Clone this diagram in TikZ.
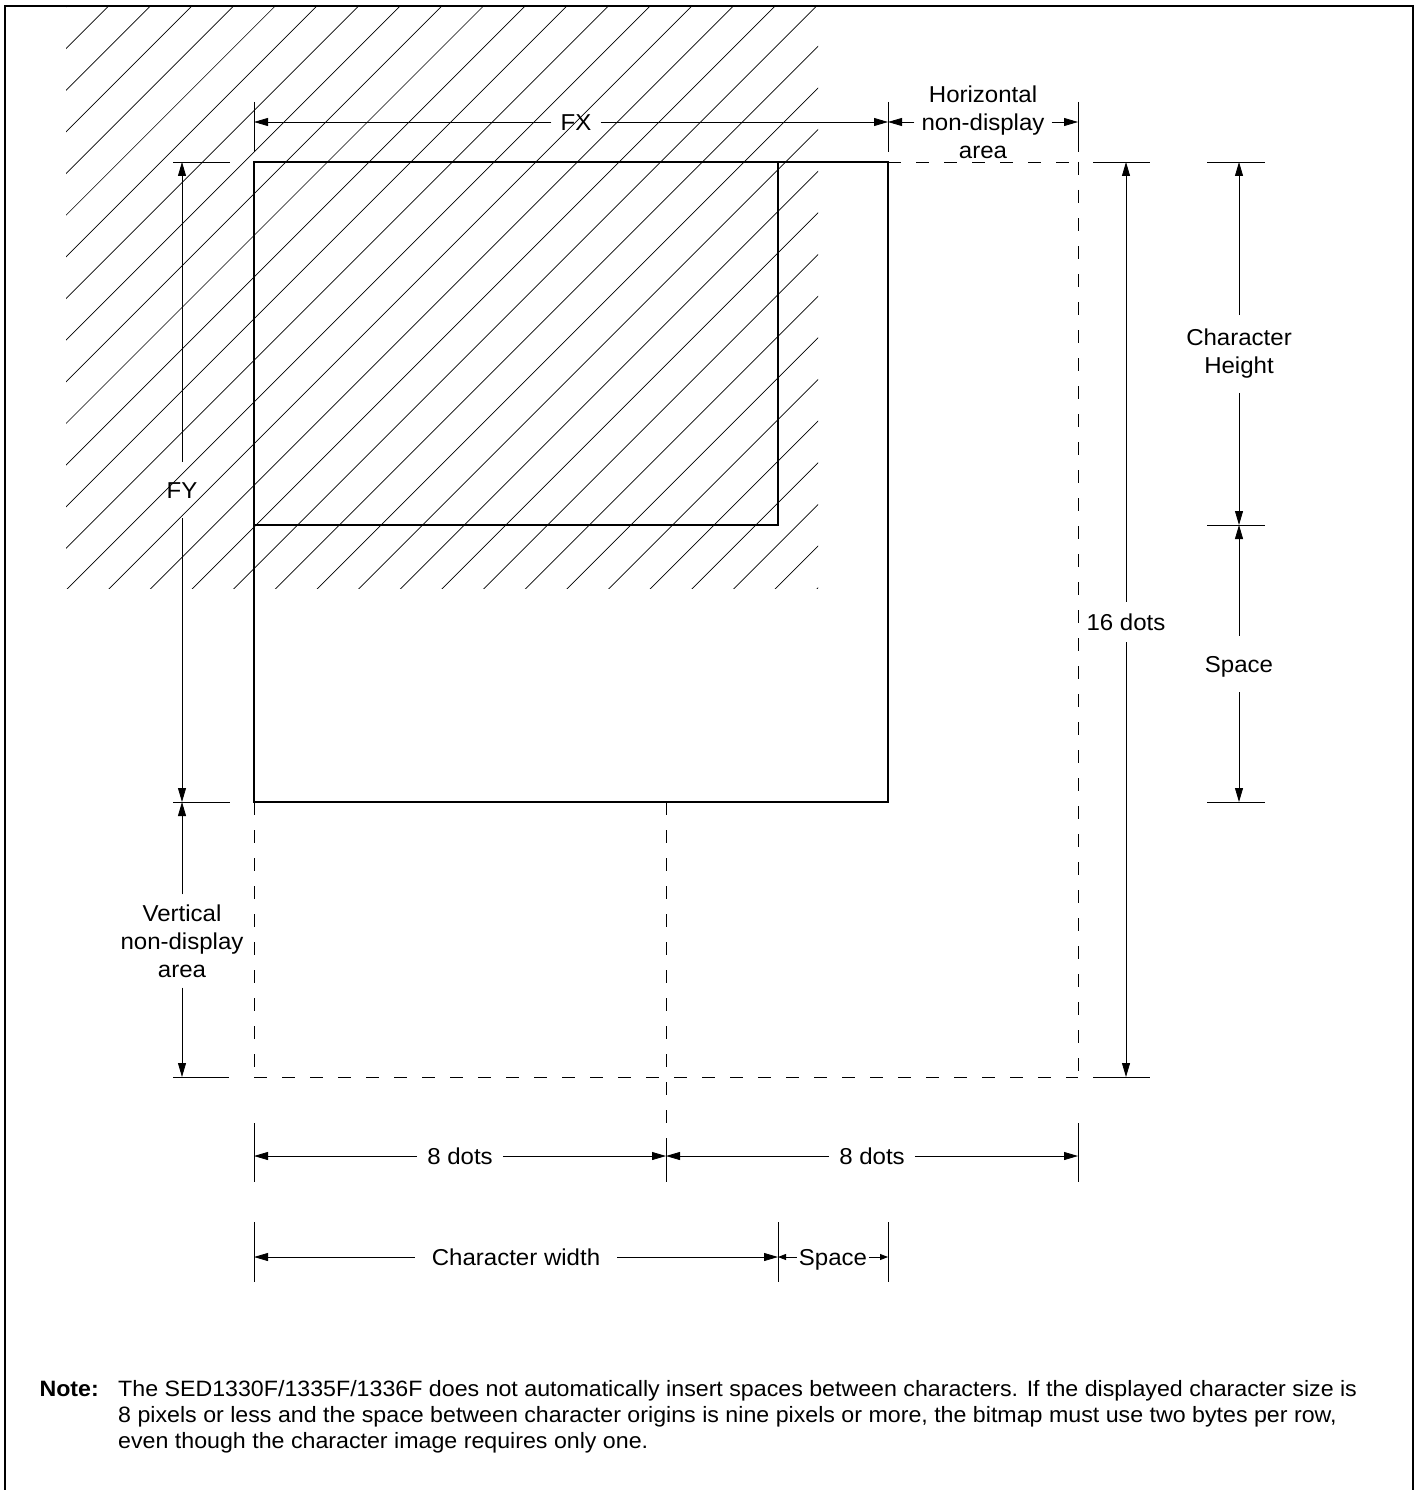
\documentclass[tikz,border=0pt]{standalone}
\usepackage{fontspec}
\setmainfont{Liberation Sans}[FakeStretch=1.045]
\usetikzlibrary{arrows.meta}
\begin{document}
\begin{tikzpicture}[x=1pt,y=-1pt,
  frameline/.style={line width=2.8pt},
  boxline/.style={line width=1.7pt},
  hatch/.style={line width=0.7pt},
  dashline/.style={line width=0.9pt, dash pattern=on 13pt off 15pt},
  tickline/.style={line width=0.8pt},
  dim/.style={line width=0.8pt, -{Triangle[length=14pt,width=8pt]}},
  smalldim/.style={line width=0.8pt, -{Triangle[length=8pt,width=6pt]}},
  lbl/.style={font=\fontsize{23}{28}\selectfont, align=center, inner sep=0pt},
  one/.style={text height=16.5pt, text depth=0pt},
  notefont/.style={font=\fontsize{22.2}{25}\selectfont, align=left, inner sep=0pt}
]
\useasboundingbox (0,0) rectangle (1418,1490);
% frame
\draw[frameline] (5,1500) -- (5,6) -- (1413,6) -- (1413,1500);
% hatching
\begin{scope}
  \clip (66,6) rectangle (818,588);
  \foreach \k in {0,...,33}
    \draw[hatch] ({73+41.65*\k},0) -- ++(-720,720);
\end{scope}
% rectangles
\draw[boxline] (254,162) rectangle (888,802);
\draw[boxline] (254,162) rectangle (778,525);
% dashed extension
\draw[dashline] (888,162) -- (1078,162);
\draw[dashline] (1078,162) -- (1078,1077);
\draw[dashline] (254,1077) -- (1078,1077);
\draw[dashline] (254,802) -- (254,1077);
\draw[dashline] (666,802) -- (666,1125);
% tick coordinates
\coordinate (fxL) at (254,122);
\coordinate (fxR) at (888,122);
\coordinate (hnR) at (1078,122);
\coordinate (fyT) at (182,162);
\coordinate (fyB) at (182,802);
\coordinate (vnB) at (182,1077);
\coordinate (sdT) at (1126,162);
\coordinate (sdB) at (1126,1077);
\coordinate (chT) at (1239,162);
\coordinate (chB) at (1239,525);
\coordinate (spB) at (1239,802);
\coordinate (edL) at (254,1156);
\coordinate (edM) at (666,1156);
\coordinate (edR) at (1078,1156);
\coordinate (cwL) at (254,1257);
\coordinate (cwR) at (778,1257);
\coordinate (swR) at (888,1257);
% ticks
\draw[tickline] (254,102) -- (254,152);
\draw[tickline] (888,102) -- (888,152);
\draw[tickline] (1078,102) -- (1078,152);
\draw[tickline] (173,162) -- (230,162);
\draw[tickline] (173,802) -- (230,802);
\draw[tickline] (173,1077) -- (229,1077);
\draw[tickline] (1093,162) -- (1150,162);
\draw[tickline] (1093,1077) -- (1150,1077);
\draw[tickline] (1207,162) -- (1265,162);
\draw[tickline] (1207,525) -- (1265,525);
\draw[tickline] (1207,802) -- (1265,802);
\draw[tickline] (254,1123) -- (254,1182);
\draw[tickline] (666,1138) -- (666,1182);
\draw[tickline] (1078,1123) -- (1078,1182);
\draw[tickline] (254,1222) -- (254,1282);
\draw[tickline] (778,1222) -- (778,1282);
\draw[tickline] (888,1222) -- (888,1282);
% labels
\node[lbl, one, inner xsep=9pt] (fx) at (576,122) {FX};
\node[lbl, inner xsep=7pt] (hn) at (983,122) {Horizontal\\non-display\\area};
\node[lbl, one, inner ysep=20pt] (fy) at (182,490) {FY};
\node[lbl, inner ysep=10pt] (vn) at (182,941) {Vertical\\non-display\\area};
\node[lbl, one, inner ysep=12pt] (sd) at (1126,622) {16 dots};
\node[lbl, inner ysep=14pt] (ch) at (1239,354) {Character\\Height};
\node[lbl, one, inner ysep=20pt] (sp) at (1239,664) {Space};
\node[lbl, one, inner xsep=10pt] (e1) at (460,1156) {8 dots};
\node[lbl, one, inner xsep=10pt] (e2) at (872,1156) {8 dots};
\node[lbl, one, inner xsep=17pt] (cw) at (516,1257) {Character width};
\node[lbl, one, inner xsep=2pt] (sw) at (833,1257) {Space};
% dimension arrows
\draw[dim] (fx) -- (fxL);
\draw[dim] (fx) -- (fxR);
\draw[dim] (hn) -- (fxR);
\draw[dim] (hn) -- (hnR);
\draw[dim] (fy) -- (fyT);
\draw[dim] (fy) -- (fyB);
\draw[dim] (vn) -- (fyB);
\draw[dim] (vn) -- (vnB);
\draw[dim] (sd) -- (sdT);
\draw[dim] (sd) -- (sdB);
\draw[dim] (ch) -- (chT);
\draw[dim] (ch) -- (chB);
\draw[dim] (sp) -- (chB);
\draw[dim] (sp) -- (spB);
\draw[dim] (e1) -- (edL);
\draw[dim] (e1) -- (edM);
\draw[dim] (e2) -- (edM);
\draw[dim] (e2) -- (edR);
\draw[dim] (cw) -- (cwL);
\draw[dim] (cw) -- (cwR);
\draw[smalldim] (sw) -- (cwR);
\draw[smalldim] (sw) -- (swR);
% note
\node[notefont, anchor=base east, font=\fontsize{22.2}{25}\selectfont\bfseries] (notehead) at (99,1396) {Note:};
\node[notefont, anchor=base west] (notebody) at (118,1396) {The SED1330F/1335F/1336F does not automatically insert spaces between characters. If the displayed character size is};
\node[notefont, anchor=base west] (note2) at (118,1422) {8 pixels or less and the space between character origins is nine pixels or more, the bitmap must use two bytes per row,};
\node[notefont, anchor=base west] (note3) at (118,1448) {even though the character image requires only one.};
\end{tikzpicture}
\end{document}
